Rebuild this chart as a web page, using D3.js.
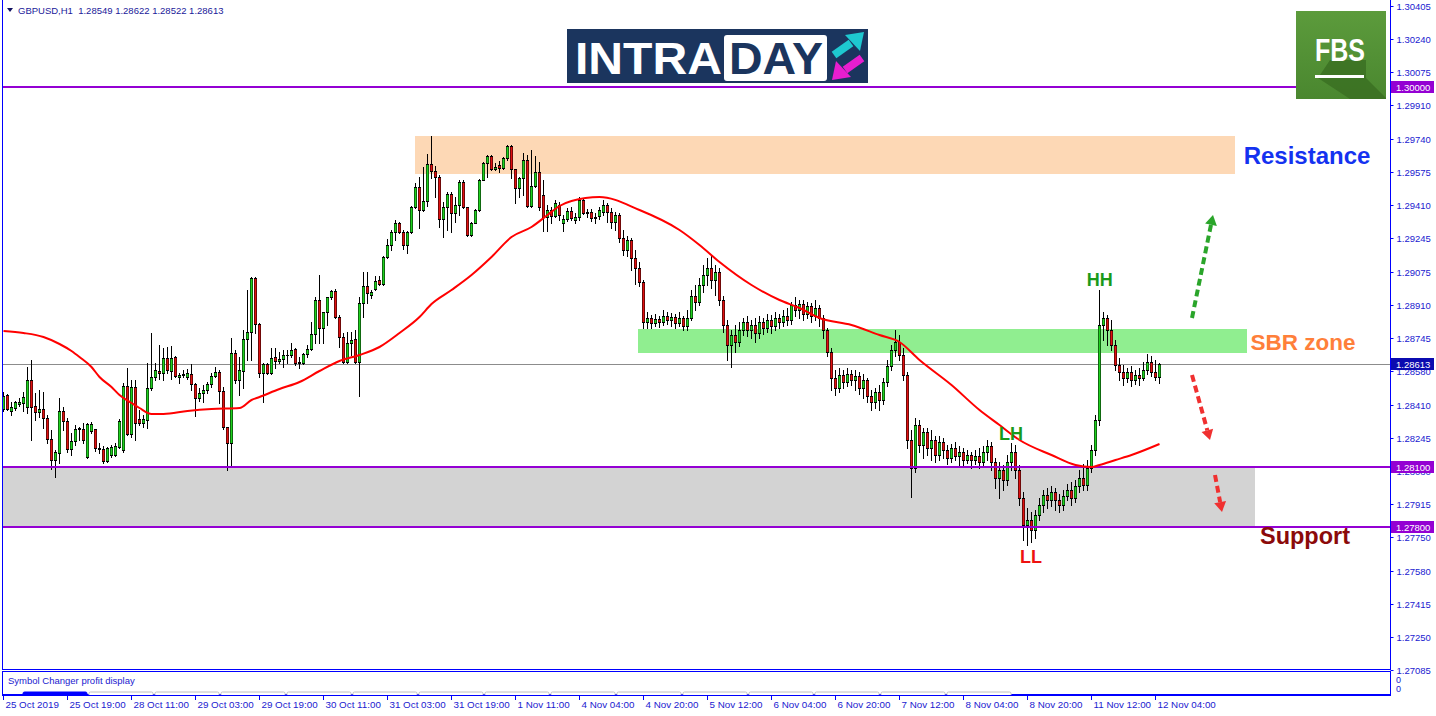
<!DOCTYPE html>
<html>
<head>
<meta charset="utf-8">
<script src="https://cdn.jsdelivr.net/npm/d3@7"></script>
<style>
  html, body { margin: 0; padding: 0; background: #fff; overflow: hidden; }
  svg { display: block; font-family: "Liberation Sans", Arial, sans-serif; }
</style>
</head>
<body>
<svg id="chart" width="1436" height="716"></svg>
<script>
// ---- Kerzen GBPUSD H1 ----
const barOpen = [
  1.2839,1.2846,1.2838,1.28395,1.28415,1.2842,1.2840,1.28535,1.28405,1.28375,
  1.2839,1.28345,1.2824,1.28135,1.2817,1.2838,1.2833,1.2819,1.2823,1.2829,
  1.2829,1.2815,1.2828,1.2829,1.28195,1.2819,1.2813,1.2816,1.2816,1.2820,
  1.28185,1.28505,1.28265,1.2850,1.2834,1.2832,1.28335,1.28495,1.2855,1.2858,
  1.2857,1.28645,1.2858,1.2865,1.2855,1.28565,1.2855,1.28565,1.28515,1.28445,
  1.2847,1.28485,1.28515,1.28555,1.28575,1.2848,1.2830,1.2822,1.2867,1.28535,
  1.2858,1.2874,1.28775,1.29045,1.28815,1.2857,1.28615,1.2857,1.2865,1.2863,
  1.2864,1.2866,1.2866,1.2869,1.2862,1.2862,1.28665,1.2869,1.28765,1.28935,
  1.28795,1.28875,1.2895,1.2898,1.2885,1.2875,1.28625,1.2872,1.2874,1.28625,
  1.2892,1.29005,1.2896,1.2899,1.29035,1.29015,1.2915,1.2921,1.29275,1.2932,
  1.29275,1.2921,1.29275,1.2940,1.2950,1.29385,1.2943,1.29615,1.2958,1.2955,
  1.2934,1.2940,1.29465,1.2937,1.2941,1.29525,1.2940,1.2926,1.2932,1.29385,
  1.29535,1.2962,1.29655,1.2959,1.2961,1.29595,1.29645,1.29705,1.2959,1.29495,
  1.29545,1.29635,1.29405,1.29505,1.29575,1.2946,1.2935,1.29385,1.29355,1.2941,
  1.2932,1.2934,1.2938,1.29335,1.2935,1.29435,1.2937,1.29375,1.29345,1.29355,
  1.29375,1.2941,1.29375,1.29325,1.2936,1.29245,1.29185,1.29235,1.29145,1.29095,
  1.29025,1.28825,1.28845,1.2882,1.2884,1.28825,1.28855,1.28835,1.2885,1.2882,
  1.28845,1.28805,1.28845,1.28955,1.28925,1.2901,1.2906,1.29095,1.29035,1.29075,
  1.28935,1.2881,1.2871,1.2876,1.28725,1.28785,1.28825,1.28785,1.2881,1.2877,
  1.28825,1.28795,1.28835,1.28805,1.28845,1.28825,1.28855,1.28835,1.2891,1.28885,
  1.28915,1.28865,1.28905,1.28855,1.28895,1.28845,1.28785,1.28675,1.28545,1.28495,
  1.2856,1.28525,1.28565,1.28535,1.28555,1.28495,1.28535,1.28455,1.28425,1.28475,
  1.28435,1.28525,1.28605,1.28685,1.28725,1.2866,1.2856,1.28235,1.28095,1.2831,
  1.2821,1.28275,1.28195,1.28235,1.2816,1.28225,1.28185,1.28145,1.28195,1.28155,
  1.28175,1.28135,1.2816,1.28135,1.28155,1.28125,1.28175,1.28205,1.28125,1.28045,
  1.28085,1.28035,1.28125,1.28175,1.28085,1.27945,1.2781,1.27835,1.27785,1.2786,
  1.2791,1.2796,1.27935,1.27975,1.27935,1.2791,1.27955,1.27985,1.27945,1.28005,
  1.28045,1.2801,1.28095,1.28185,1.28335,1.2881,1.28845,1.28785,1.2871,1.2861,
  1.28575,1.28545,1.28575,1.28535,1.2856,1.28545,1.28585,1.28625,1.28575,1.28549
];
const barHigh = [
  1.28475,1.28465,1.28425,1.2843,1.28445,1.28475,1.2860,1.28635,1.2847,1.28485,
  1.28475,1.2836,1.28285,1.28185,1.28445,1.2840,1.28345,1.2827,1.2831,1.2830,
  1.2832,1.2832,1.28325,1.2829,1.2822,1.28205,1.2820,1.2821,1.2822,1.2834,
  1.2852,1.28595,1.28535,1.28535,1.28385,1.2836,1.2862,1.2877,1.2862,1.2871,
  1.28695,1.2870,1.28705,1.28655,1.2857,1.28585,1.2859,1.28615,1.2852,1.28495,
  1.2851,1.28525,1.2857,1.2860,1.28585,1.2850,1.2830,1.28745,1.28685,1.2865,
  1.28785,1.28985,1.2905,1.2905,1.2882,1.2862,1.2862,1.28695,1.28695,1.28675,
  1.28685,1.28685,1.2872,1.28695,1.2865,1.2867,1.2871,1.28825,1.2895,1.2906,
  1.28875,1.2895,1.28985,1.2899,1.2886,1.2877,1.28775,1.28775,1.28785,1.2895,
  1.29075,1.29075,1.28985,1.29055,1.29055,1.29155,1.2924,1.29285,1.29335,1.29325,
  1.29285,1.2928,1.29405,1.2952,1.2955,1.2960,1.29665,1.29755,1.29605,1.2956,
  1.29425,1.29475,1.29475,1.2945,1.29535,1.29535,1.2940,1.29325,1.2939,1.2954,
  1.29625,1.2966,1.2966,1.2962,1.2963,1.2965,1.2971,1.2971,1.2959,1.2955,
  1.2967,1.2966,1.29685,1.29655,1.29625,1.29535,1.2941,1.2940,1.29435,1.29425,
  1.2936,1.29395,1.2940,1.2937,1.2945,1.2944,1.2939,1.2939,1.2937,1.2940,
  1.29435,1.2942,1.29395,1.29375,1.2937,1.29285,1.29255,1.29245,1.29185,1.29125,
  1.29035,1.28875,1.2886,1.28865,1.28855,1.28885,1.28875,1.2887,1.28865,1.28875,
  1.28855,1.28885,1.28985,1.2901,1.29045,1.2911,1.29145,1.2916,1.2911,1.29095,
  1.28955,1.28835,1.28785,1.2881,1.28825,1.28845,1.28855,1.28835,1.28845,1.28855,
  1.28845,1.28865,1.2886,1.28875,1.28865,1.28885,1.28895,1.28925,1.2895,1.28935,
  1.28935,1.28925,1.2892,1.28935,1.2891,1.2886,1.28795,1.28695,1.28585,1.28595,
  1.28585,1.28595,1.28585,1.28585,1.28575,1.28565,1.28545,1.28485,1.28495,1.2851,
  1.28545,1.28635,1.2871,1.28785,1.2876,1.28695,1.28575,1.28285,1.28345,1.28335,
  1.28295,1.28295,1.28285,1.28255,1.28255,1.28245,1.2821,1.28215,1.28225,1.28205,
  1.28195,1.28185,1.28175,1.28185,1.28195,1.28205,1.28235,1.28225,1.28145,1.28125,
  1.2811,1.2816,1.2822,1.2821,1.2811,1.27975,1.27895,1.27875,1.27885,1.27945,
  1.27985,1.27995,1.28005,1.27995,1.27965,1.27985,1.28015,1.28025,1.28035,1.28085,
  1.28115,1.28135,1.2821,1.2836,1.28985,1.28875,1.2886,1.28835,1.28735,1.28645,
  1.2861,1.28595,1.28605,1.28585,1.28595,1.28625,1.28665,1.28655,1.28635,1.28622
];
const barLow = [
  1.2838,1.28385,1.2836,1.28385,1.28405,1.2838,1.2837,1.28235,1.28335,1.2835,
  1.28295,1.2822,1.2809,1.2805,1.2812,1.28285,1.28175,1.2816,1.2821,1.28235,
  1.2822,1.28145,1.2827,1.2818,1.2817,1.2812,1.28125,1.2815,1.28155,1.28195,
  1.28175,1.2826,1.2825,1.28235,1.2831,1.2830,1.28295,1.28485,1.28535,1.2854,
  1.28535,1.2857,1.2854,1.2855,1.2852,1.2855,1.2854,1.28485,1.28355,1.2843,
  1.28425,1.2847,1.2850,1.2855,1.2842,1.2829,1.28085,1.28105,1.2852,1.2846,
  1.28495,1.28635,1.28635,1.2877,1.2855,1.28425,1.28565,1.28565,1.28595,1.2862,
  1.2860,1.2862,1.2865,1.2861,1.28595,1.28615,1.2865,1.28685,1.2872,1.2872,
  1.2872,1.2881,1.2894,1.28845,1.2870,1.2862,1.2862,1.2866,1.2862,1.28455,
  1.2885,1.2892,1.28945,1.28985,1.2901,1.2901,1.29145,1.29185,1.29235,1.2927,
  1.2919,1.2917,1.2927,1.29395,1.29295,1.2938,1.29405,1.29545,1.2945,1.2930,
  1.2925,1.29285,1.29275,1.29325,1.2936,1.29395,1.29255,1.29255,1.2932,1.2938,
  1.29535,1.2955,1.29585,1.29585,1.29575,1.2959,1.29635,1.29545,1.2942,1.2945,
  1.2946,1.2940,1.2940,1.2950,1.29385,1.2928,1.2928,1.2932,1.2935,1.29335,
  1.2928,1.2933,1.29335,1.2932,1.29335,1.29365,1.2935,1.2933,1.2932,1.2934,
  1.2936,1.29325,1.29295,1.29285,1.29225,1.2916,1.29155,1.29085,1.29015,1.29005,
  1.28795,1.28795,1.28795,1.28805,1.288,1.2881,1.28815,1.28805,1.28795,1.28805,
  1.28785,1.28785,1.28835,1.28885,1.2891,1.28975,1.2901,1.28995,1.2896,1.2891,
  1.28775,1.28635,1.286,1.28675,1.28705,1.2876,1.28755,1.28745,1.28725,1.28745,
  1.28765,1.28775,1.2877,1.28785,1.28795,1.28805,1.2881,1.28815,1.28855,1.28845,
  1.28835,1.28845,1.28825,1.28835,1.28805,1.28745,1.28655,1.28485,1.2846,1.28475,
  1.28495,1.28505,1.2851,1.28485,1.28465,1.28445,1.28425,1.28385,1.28395,1.28385,
  1.28415,1.28505,1.28585,1.28655,1.28635,1.28535,1.28195,1.2795,1.28075,1.28175,
  1.28145,1.2816,1.28135,1.28125,1.28135,1.28145,1.28115,1.28125,1.28135,1.2811,
  1.28105,1.2812,1.28095,1.28115,1.28095,1.28105,1.28135,1.28085,1.27995,1.27945,
  1.27985,1.2801,1.28085,1.28045,1.2791,1.27735,1.2771,1.27725,1.27745,1.27835,
  1.27875,1.27895,1.27905,1.27885,1.27875,1.27885,1.27935,1.2791,1.27925,1.27975,
  1.27985,1.27985,1.28075,1.2816,1.2831,1.28735,1.2871,1.28685,1.28585,1.28535,
  1.2851,1.28525,1.28505,1.28515,1.2851,1.28535,1.28565,1.28555,1.28535,1.28522
];
const barClose = [
  1.28455,1.2839,1.2840,1.28425,1.28425,1.2845,1.28535,1.2840,1.28375,1.2839,
  1.28345,1.2824,1.28135,1.28175,1.2838,1.2833,1.2819,1.2823,1.2829,1.28295,
  1.28235,1.28315,1.28315,1.28195,1.2819,1.2813,1.28195,1.2820,1.28205,1.2833,
  1.28505,1.28265,1.2850,1.2832,1.2832,1.2834,1.28495,1.2855,1.28585,1.2857,
  1.28645,1.28585,1.28645,1.28555,1.2856,1.2856,1.2857,1.28515,1.28445,1.2847,
  1.28485,1.28515,1.28555,1.28575,1.2848,1.2830,1.2822,1.2867,1.28535,1.28585,
  1.2874,1.28775,1.29045,1.28815,1.2857,1.28615,1.2857,1.28645,1.2863,1.2864,
  1.2866,1.2866,1.28685,1.2862,1.28625,1.28665,1.2869,1.28765,1.28935,1.28795,
  1.28875,1.2895,1.2898,1.2885,1.2875,1.28625,1.2872,1.28735,1.28625,1.2892,
  1.29005,1.2897,1.28975,1.2903,1.29015,1.2915,1.2921,1.29275,1.2932,1.29275,
  1.2921,1.29275,1.2940,1.2950,1.29385,1.2943,1.29615,1.2958,1.2955,1.2934,
  1.2940,1.29465,1.2937,1.2941,1.29525,1.2940,1.2926,1.2932,1.29385,1.29535,
  1.2962,1.29655,1.2959,1.2960,1.29595,1.29645,1.29705,1.2959,1.29495,1.29545,
  1.29635,1.29405,1.29505,1.29575,1.2940,1.2935,1.29385,1.29355,1.2942,1.2936,
  1.2934,1.2938,1.29345,1.2935,1.29435,1.2937,1.29375,1.29345,1.2935,1.29385,
  1.2941,1.29375,1.29325,1.2936,1.29245,1.29185,1.29235,1.29145,1.29095,1.29025,
  1.28825,1.28845,1.2882,1.2884,1.28825,1.28855,1.28835,1.2885,1.2882,1.28845,
  1.28805,1.28845,1.28955,1.28925,1.2901,1.2906,1.29095,1.29035,1.29075,1.28935,
  1.2881,1.2871,1.2876,1.28725,1.28785,1.28825,1.28785,1.2881,1.2877,1.28825,
  1.28795,1.28835,1.28805,1.28845,1.28825,1.28855,1.28835,1.2891,1.28885,1.28915,
  1.28865,1.28905,1.28855,1.28895,1.28845,1.28785,1.28675,1.28545,1.28495,1.2856,
  1.28525,1.28565,1.28535,1.28555,1.28495,1.28535,1.28455,1.28425,1.28475,1.28435,
  1.28525,1.28605,1.28685,1.28725,1.2866,1.2856,1.28235,1.28095,1.2831,1.2821,
  1.28275,1.28195,1.28235,1.2816,1.28225,1.28185,1.28145,1.28195,1.28155,1.28175,
  1.28135,1.2816,1.28135,1.28155,1.28125,1.28175,1.28205,1.28125,1.28045,1.28085,
  1.28035,1.28125,1.28175,1.28085,1.27945,1.2781,1.27835,1.27785,1.2786,1.2791,
  1.2796,1.27935,1.27975,1.27935,1.2791,1.27955,1.27985,1.27945,1.28005,1.28045,
  1.2801,1.28095,1.28185,1.28335,1.2881,1.28845,1.28785,1.2871,1.2861,1.28575,
  1.28545,1.28575,1.28535,1.2856,1.28545,1.28585,1.28625,1.28575,1.2855,1.28613
];

// gleitender Durchschnitt (rote Linie), Stützstellen: Kerzen-Index / Kurs
const maBars = [0,5,10,14,17,19,22,24,27,29,32,34,37,40,46,52,59,62,64,69,74,79,84,89,94,99,104,107,112,117,122,127,132,136,139,142,149,159,169,174,179,187,194,199,204,212,219,224,229,237,244,249,254,262,268,272,274,278,282,289];
const maValues = [1.2878,1.2877,1.2875,1.28715,1.2868,1.2865,1.2860,1.2855,1.2850,1.2846,1.2842,1.28395,1.28365,1.28365,1.2838,1.2839,1.28395,1.28435,1.2845,1.2849,1.28525,1.2858,1.2863,1.2866,1.2870,1.2877,1.2885,1.28915,1.28985,1.2906,1.2915,1.2925,1.2930,1.2936,1.29405,1.2943,1.2945,1.29385,1.29285,1.2921,1.29125,1.2901,1.28935,1.28895,1.28845,1.2881,1.2876,1.28725,1.28635,1.2851,1.28385,1.2831,1.28235,1.2816,1.2811,1.2810,1.2811,1.28135,1.2816,1.28215];

// Zeitachse: alle 16 Kerzen eine Beschriftung
const timeLabels = ["25 Oct 2019","25 Oct 19:00","28 Oct 11:00","29 Oct 03:00","29 Oct 19:00","30 Oct 11:00","31 Oct 03:00","31 Oct 19:00","1 Nov 11:00","4 Nov 04:00","4 Nov 20:00","5 Nov 12:00","6 Nov 04:00","6 Nov 20:00","7 Nov 12:00","8 Nov 04:00","8 Nov 20:00","11 Nov 12:00","12 Nov 04:00"];
const priceTicks = [1.30405,1.30240,1.30075,1.29910,1.29740,1.29575,1.29410,1.29245,1.29075,1.28910,1.28745,1.28580,1.28410,1.28245,1.28080,1.27915,1.27750,1.27580,1.27415,1.27250,1.27085];

// horizontale Linien und Zonen
const levelPrices = [1.30000, 1.28100, 1.27800];
const bidPrice = 1.28613;
const headerText = "GBPUSD,H1  1.28549 1.28622 1.28522 1.28613";
const zones = [
  { name: "resistance", from: 103, to: 308, top: 1.29755, bottom: 1.29565, color: "#fdd8b5" },
  { name: "sbr",        from: 158.75, to: 311, top: 1.28790, bottom: 1.28670, color: "#90ee90" },
  { name: "support",    from: -1, to: 313, top: 1.28100, bottom: 1.27800, color: "#d3d3d3" }
];

// ---- Grundgerüst ----
const svg = d3.select("#chart");
const plotLeft = 3, plotRight = 1390, plotBottom = 669;

const x = d3.scaleLinear().domain([0, 1]).range([3, 7]);          // 4 px pro Kerze
const y = d3.scaleLinear().domain([1.2709, 1.30435]).range([plotBottom, 0]);

svg.append("defs").append("clipPath").attr("id", "plotclip")
  .append("rect").attr("x", plotLeft).attr("y", 0).attr("width", plotRight - plotLeft).attr("height", plotBottom);

const plot = svg.append("g").attr("clip-path", "url(#plotclip)");

// Zonen
plot.selectAll("rect.zone").data(zones).join("rect")
  .attr("class", "zone")
  .attr("x", d => Math.max(plotLeft, x(d.from)))
  .attr("width", d => x(d.to) - Math.max(plotLeft, x(d.from)))
  .attr("y", d => y(d.top))
  .attr("height", d => y(d.bottom) - y(d.top))
  .attr("fill", d => d.color);

// Bid-Linie
plot.append("line")
  .attr("x1", plotLeft).attr("x2", plotRight)
  .attr("y1", Math.round(y(bidPrice)) + 0.5).attr("y2", Math.round(y(bidPrice)) + 0.5)
  .attr("stroke", "#8c8c8c").attr("stroke-width", 1);

// Kerzen: Docht, schwarzer Rahmen, farbiger Körper
const bars = barOpen.map((o, i) => ({ i, o, h: barHigh[i], l: barLow[i], c: barClose[i] }));
const bodyTop = d => Math.round(y(Math.max(d.o, d.c)));
const bodyBot = d => Math.round(y(Math.min(d.o, d.c)));
const candles = plot.append("g");
candles.selectAll("line").data(bars).join("line")
  .attr("x1", d => x(d.i) + 0.5).attr("x2", d => x(d.i) + 0.5)
  .attr("y1", d => Math.round(y(d.h))).attr("y2", d => Math.round(y(d.l)) + 1)
  .attr("stroke", "#000").attr("stroke-width", 1);
candles.selectAll("rect.frame").data(bars).join("rect").attr("class", "frame")
  .attr("x", d => x(d.i) - 1).attr("width", 3)
  .attr("y", bodyTop)
  .attr("height", d => bodyBot(d) - bodyTop(d) + 1)
  .attr("fill", "#000");
candles.selectAll("rect.body").data(bars.filter(d => bodyBot(d) - bodyTop(d) >= 2)).join("rect").attr("class", "body")
  .attr("x", d => x(d.i) - 0.5).attr("width", 2)
  .attr("y", d => bodyTop(d) + 1)
  .attr("height", d => bodyBot(d) - bodyTop(d) - 1)
  .attr("fill", d => d.c >= d.o ? "#1ed21e" : "#e01010");

// Level-Linien (violett)
plot.selectAll("line.level").data(levelPrices).join("line")
  .attr("class", "level")
  .attr("x1", plotLeft).attr("x2", d => d === 1.30 ? 1375 : plotRight)
  .attr("y1", d => y(d)).attr("y2", d => y(d))
  .attr("stroke", "#9400d3").attr("stroke-width", 2);

// gleitender Durchschnitt
const maLine = d3.line()
  .x((d, k) => x(maBars[k]) + 0.5)
  .y(d => y(d))
  .curve(d3.curveMonotoneX);
plot.append("path")
  .datum(maValues)
  .attr("d", maLine)
  .attr("fill", "none")
  .attr("stroke", "#ff0000")
  .attr("stroke-width", 2);

// ---- Rahmen ----
svg.append("line").attr("x1", 2.5).attr("x2", 2.5).attr("y1", 0).attr("y2", plotBottom + 1)
  .attr("stroke", "#0000ff");
svg.append("line").attr("x1", 2).attr("x2", plotRight + 1).attr("y1", plotBottom + 0.5).attr("y2", plotBottom + 0.5)
  .attr("stroke", "#0000ff");

// Preisachse rechts
const yAxis = svg.append("g")
  .attr("transform", `translate(${plotRight + 0.5},0)`)
  .call(d3.axisRight(y).tickValues(priceTicks).tickFormat(d3.format(".5f")).tickSize(3).tickPadding(3));
yAxis.select(".domain").attr("d", `M0,0V${plotBottom + 1}`).attr("stroke", "#0000ff");
yAxis.selectAll(".tick line").attr("stroke", "#0000ff");
yAxis.selectAll(".tick text")
  .attr("fill", "#1a1ad0")
  .style("font-family", "Liberation Sans, Arial, sans-serif")
  .style("font-size", "9.5px");

// Preisschilder auf der Achse
const tags = [
  { price: 1.30000, fill: "#9400d3" },
  { price: 1.28100, fill: "#9400d3" },
  { price: 1.27800, fill: "#9400d3" },
  { price: bidPrice, fill: "#0b0bb0" }
];
const tagG = svg.selectAll("g.tag").data(tags).join("g").attr("class", "tag")
  .attr("transform", d => `translate(${plotRight + 1},${Math.round(y(d.price))})`);
tagG.append("rect").attr("x", 0).attr("y", -6).attr("width", 43).attr("height", 12).attr("fill", d => d.fill);
tagG.append("text").attr("x", 5).attr("y", 3.5)
  .attr("fill", "#fff").style("font-size", "9.5px")
  .text(d => d3.format(".5f")(d.price));

// Kopfzeile
svg.append("path").attr("d", "M7,8 L13,8 L10,12 Z").attr("fill", "#101060");
svg.append("text").attr("x", 18).attr("y", 14)
  .attr("fill", "#1a1a9a").style("font-size", "9.5px")
  .attr("xml:space", "preserve")
  .text(headerText);

// ---- Unterfenster "Symbol Changer" ----
svg.append("rect").attr("x", 2.5).attr("y", 671.5).attr("width", plotRight - 2).attr("height", 23)
  .attr("fill", "#fff").attr("stroke", "#0000ff");
svg.append("text").attr("x", 8).attr("y", 683.5)
  .attr("fill", "#1a1ad0").style("font-size", "9.5px")
  .text("Symbol Changer profit display");
const tabIdx = d3.range(15);
svg.selectAll("rect.tab").data(tabIdx).join("rect").attr("class", "tab")
  .attr("x", d => 23 + d * 66).attr("y", 692).attr("width", 64).attr("height", 6)
  .attr("rx", 1.5)
  .attr("fill", d => d === 0 ? "#0000ff" : "#fff")
  .attr("stroke", d => d === 0 ? "#0000ff" : "#c0c0c0");
svg.append("rect").attr("x", 0).attr("y", 695).attr("width", 1436).attr("height", 21).attr("fill", "#fff");
svg.append("line").attr("x1", 2).attr("x2", plotRight + 1).attr("y1", 695.5).attr("y2", 695.5).attr("stroke", "#0000ff");
svg.append("line").attr("x1", plotRight + 0.5).attr("x2", plotRight + 0.5).attr("y1", 671).attr("y2", 696).attr("stroke", "#0000ff");
svg.selectAll("text.zero").data([682.5, 692]).join("text").attr("class", "zero")
  .attr("x", 1396).attr("y", d => d).attr("fill", "#1a1ad0").style("font-size", "9px").text("0");

// Zeitachse
const timeG = svg.selectAll("g.time").data(timeLabels).join("g").attr("class", "time")
  .attr("transform", (d, k) => `translate(${x(k * 16) + 0.5},695)`);
timeG.append("line").attr("y1", 0).attr("y2", 5).attr("stroke", "#0000ff");
timeG.append("text").attr("x", 2).attr("y", 13)
  .attr("fill", "#1a1ad0").style("font-size", "9.8px")
  .text(d => d);

// ---- Beschriftungen im Chart ----
const notes = [
  { text: "Resistance", bar: 326, price: 1.29615, size: 24, color: "#1432f0" },
  { text: "SBR zone",   bar: 325, price: 1.28685, size: 22.5, color: "#ff7f3a" },
  { text: "Support",    bar: 325.5, price: 1.27715, size: 23.5, color: "#8b0a0a" },
  { text: "HH",         bar: 274.2, price: 1.29005, size: 18, color: "#1a9a1a" },
  { text: "LH",         bar: 252,   price: 1.28235, size: 18, color: "#1a9a1a" },
  { text: "LL",         bar: 257,   price: 1.27620, size: 18, color: "#ee1111" }
];
svg.selectAll("text.note").data(notes).join("text").attr("class", "note")
  .attr("x", d => x(d.bar)).attr("y", d => y(d.price))
  .attr("text-anchor", "middle")
  .attr("fill", d => d.color)
  .style("font-size", d => d.size + "px")
  .style("font-weight", "bold")
  .text(d => d.text);

// gestrichelte Pfeile
const arrows = [
  { b0: 297.25, p0: 1.28845, b1: 302.5,  p1: 1.29360, color: "#2aa52a" },
  { b0: 297.25, p0: 1.28560, b1: 301.75, p1: 1.28235, color: "#f03030" },
  { b0: 303,    p0: 1.28060, b1: 304.75, p1: 1.27875, color: "#f03030" }
];
arrows.forEach(a => {
  const x0 = x(a.b0), y0 = y(a.p0), x1 = x(a.b1), y1 = y(a.p1);
  const ang = Math.atan2(y1 - y0, x1 - x0);
  const hl = 10, hw = 6;
  const bx = x1 - hl * Math.cos(ang), by = y1 - hl * Math.sin(ang);
  svg.append("line")
    .attr("x1", x0).attr("y1", y0).attr("x2", bx).attr("y2", by)
    .attr("stroke", a.color).attr("stroke-width", 4).attr("stroke-dasharray", "7,4");
  svg.append("path")
    .attr("d", `M${x1},${y1} L${bx + hw * Math.sin(ang)},${by - hw * Math.cos(ang)} L${bx - hw * Math.sin(ang)},${by + hw * Math.cos(ang)} Z`)
    .attr("fill", a.color);
});

// ---- Logo INTRADAY ----
const intra = svg.append("g");
intra.append("rect").attr("x", 567).attr("y", 29).attr("width", 301).attr("height", 54).attr("fill", "#1b355e");
intra.append("text").attr("x", 575).attr("y", 74).attr("fill", "#fff")
  .style("font-size", "44px").style("font-weight", "bold")
  .attr("textLength", 147).attr("lengthAdjust", "spacingAndGlyphs").text("INTRA");
intra.append("rect").attr("x", 724).attr("y", 35).attr("width", 103).attr("height", 46).attr("rx", 3).attr("fill", "#fff");
intra.append("text").attr("x", 729).attr("y", 74).attr("fill", "#1b355e")
  .style("font-size", "44px").style("font-weight", "bold")
  .attr("textLength", 94).attr("lengthAdjust", "spacingAndGlyphs").text("DAY");
intra.append("line").attr("x1", 834).attr("y1", 55).attr("x2", 851).attr("y2", 43)
  .attr("stroke", "#1ec8d0").attr("stroke-width", 8);
intra.append("path").attr("d", "M864,32 L845,35 L860,51 Z").attr("fill", "#1ec8d0");
intra.append("line").attr("x1", 862).attr("y1", 58).attr("x2", 845).attr("y2", 70)
  .attr("stroke", "#e81ecf").attr("stroke-width", 8);
intra.append("path").attr("d", "M832,80 L851,77 L836,61 Z").attr("fill", "#e81ecf");

// ---- Logo FBS ----
const grad = svg.select("defs").append("linearGradient").attr("id", "fbsgrad")
  .attr("x1", 0).attr("y1", 0).attr("x2", 0).attr("y2", 1);
grad.append("stop").attr("offset", "0%").attr("stop-color", "#5c9b3c");
grad.append("stop").attr("offset", "100%").attr("stop-color", "#4a872f");
const fbs = svg.append("g");
fbs.append("rect").attr("x", 1296).attr("y", 11).attr("width", 90).attr("height", 88).attr("fill", "url(#fbsgrad)");
fbs.append("path").attr("d", "M1330,60 L1366,60 L1366,78 L1386,98 L1386,99 L1350,99 L1318,78 Z")
  .attr("fill", "#3a6e22").attr("opacity", 0.8);
fbs.append("text").attr("x", 1315).attr("y", 61).attr("fill", "#fff")
  .style("font-size", "31px").style("font-weight", "bold")
  .attr("textLength", 50).attr("lengthAdjust", "spacingAndGlyphs").text("FBS");
fbs.append("rect").attr("x", 1315).attr("y", 75).attr("width", 49).attr("height", 3).attr("fill", "#fff");
</script>
</body>
</html>
